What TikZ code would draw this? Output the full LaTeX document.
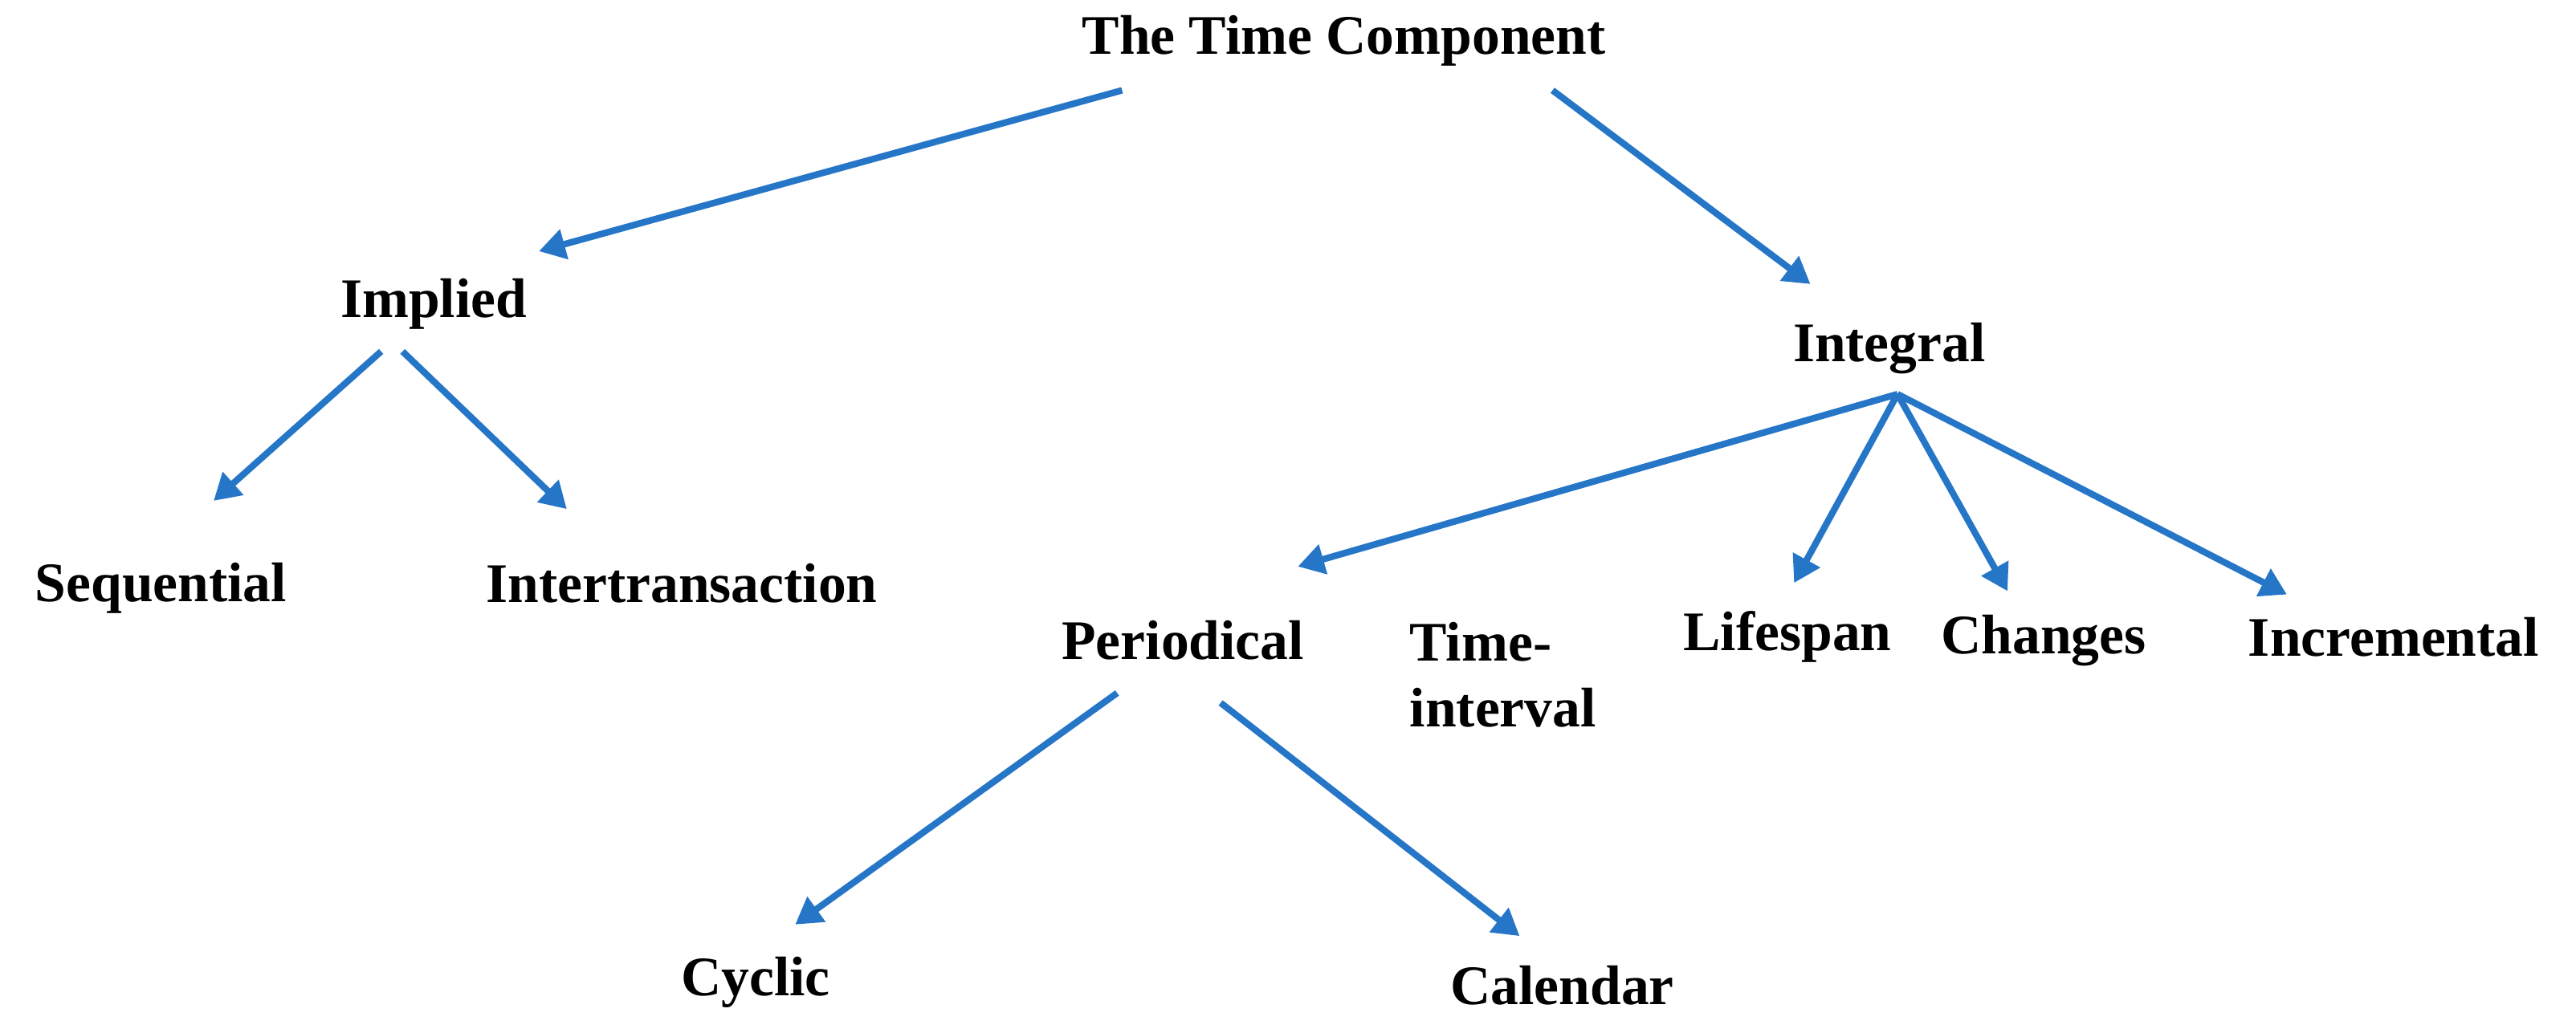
\documentclass[tikz,border=0pt]{standalone}
\usepackage{fontspec}
\setmainfont{Liberation Serif}
\usetikzlibrary{arrows.meta}
\definecolor{arr}{RGB}{38,118,200}
\begin{document}
\begin{tikzpicture}[x=1pt,y=-1pt,
  lbl/.style={font=\fontsize{34}{40}\selectfont\bfseries, inner sep=0pt},
  con/.style={draw=arr, line width=4pt, -{Triangle[length=16pt,width=18pt]}}]
\useasboundingbox (0,0) rectangle (1568,629);
\node[lbl] (tc) at (818,25) {The Time Component};
\node[lbl] (imp) at (264,185) {Implied};
\node[lbl] (int) at (1150,212) {Integral};
\node[lbl] (seq) at (98,358) {Sequential};
\node[lbl] (itr) at (415,355) {Intertransaction};
\node[lbl] (per) at (720,390) {Periodical};
\node[lbl, align=left, anchor=west] (ti) at (858,411) {Time-\\interval};
\node[lbl] (life) at (1088,388) {Lifespan};
\node[lbl] (chg) at (1244,390) {Changes};
\node[lbl] (inc) at (1457,388) {Incremental};
\node[lbl] (cyc) at (460,598) {Cyclic};
\node[lbl] (cal) at (951,600) {Calendar};
\coordinate (a1) at (683,55); \coordinate (b1) at (328,153);
\coordinate (a2) at (945,55); \coordinate (b2) at (1102,173);
\coordinate (a3) at (232,214); \coordinate (b3) at (130,305);
\coordinate (a4) at (245,214); \coordinate (b4) at (345,310);
\coordinate (a5) at (1155,240);
\coordinate (b5) at (790,345); \coordinate (b6) at (1092,355);
\coordinate (b7) at (1222,360); \coordinate (b8) at (1392,362);
\coordinate (a9) at (680,422); \coordinate (b9) at (484,563);
\coordinate (a10) at (743,428); \coordinate (b10) at (925,570);
\draw[con] (a1) -- (b1);
\draw[con] (a2) -- (b2);
\draw[con] (a3) -- (b3);
\draw[con] (a4) -- (b4);
\draw[con] (a5) -- (b5);
\draw[con] (a5) -- (b6);
\draw[con] (a5) -- (b7);
\draw[con] (a5) -- (b8);
\draw[con] (a9) -- (b9);
\draw[con] (a10) -- (b10);
\end{tikzpicture}
\end{document}
